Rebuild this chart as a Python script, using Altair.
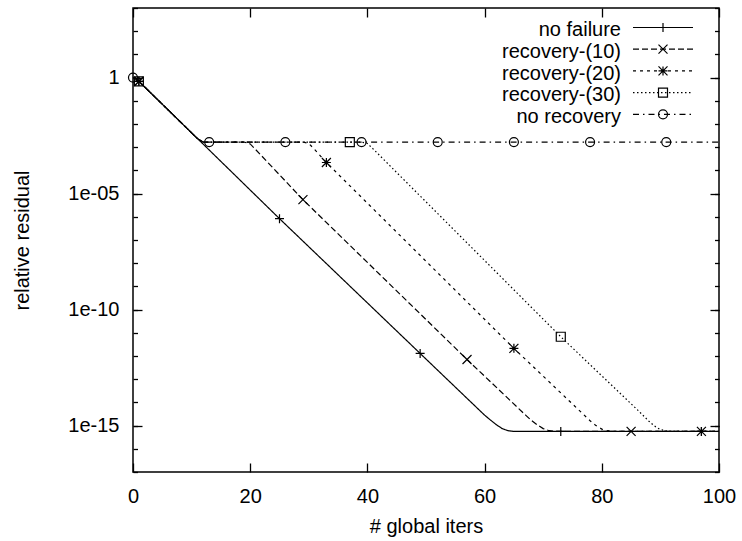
import altair as alt
import pandas as pd

FONT = "Liberation Sans"

series_names = ["no failure", "recovery-(10)", "recovery-(20)", "recovery-(30)", "no recovery"]

# curve vertices: global iteration and log10(relative residual)
nf_iter = [1, 25, 49, 60, 61, 62, 63, 64, 65, 100]
nf_exp = [-0.16, -6.08, -11.89, -14.55, -14.76, -14.96, -15.13, -15.22, -15.25, -15.25]
r10_iter = [1, 11, 12, 19, 20, 21, 29, 57, 67, 68, 69, 70, 71, 72, 100]
r10_exp = [-0.16, -2.63, -2.78, -2.78, -2.86, -3.12, -5.26, -12.15, -14.55, -14.78, -14.97, -15.13, -15.22, -15.25, -15.25]
r20_iter = [1, 11, 12, 29, 30, 31, 33, 65, 77, 78, 79, 80, 81, 82, 100]
r20_exp = [-0.16, -2.63, -2.78, -2.78, -2.84, -3.10, -3.66, -11.67, -14.55, -14.79, -15.00, -15.15, -15.22, -15.25, -15.25]
r30_iter = [1, 11, 12, 39, 40, 41, 73, 86, 87, 88, 89, 90, 91, 92, 100]
r30_exp = [-0.16, -2.63, -2.78, -2.78, -2.84, -3.08, -11.17, -14.30, -14.55, -14.80, -15.02, -15.17, -15.23, -15.25, -15.25]
nr_iter = [0, 1, 11, 12, 100]
nr_exp = [0.0, -0.16, -2.63, -2.78, -2.78]

# marker positions
nf_mk_iter = [1, 25, 49, 73, 97]
nf_mk_exp = [-0.16, -6.08, -11.89, -15.25, -15.25]
r10_mk_iter = [1, 29, 57, 85]
r10_mk_exp = [-0.16, -5.26, -12.15, -15.25]
r20_mk_iter = [1, 33, 65, 97]
r20_mk_exp = [-0.16, -3.66, -11.67, -15.25]
r30_mk_iter = [1, 37, 73]
r30_mk_exp = [-0.16, -2.78, -11.17]
nr_mk_iter = [0, 13, 26, 39, 52, 65, 78, 91]
nr_mk_exp = [0.0, -2.78, -2.78, -2.78, -2.78, -2.78, -2.78, -2.78]

x_tick_values = [0, 20, 40, 60, 80, 100]
y_tick_values = [1, 1e-5, 1e-10, 1e-15]
y_tick_labels = ["1", "1e-05", "1e-10", "1e-15"]
y_minor_values = [10.0 ** k for k in range(3, -18, -1)]

line_iters = [nf_iter, r10_iter, r20_iter, r30_iter, nr_iter]
line_exps = [nf_exp, r10_exp, r20_exp, r30_exp, nr_exp]
mk_iters = [nf_mk_iter, r10_mk_iter, r20_mk_iter, r30_mk_iter, nr_mk_iter]
mk_exps = [nf_mk_exp, r10_mk_exp, r20_mk_exp, r30_mk_exp, nr_mk_exp]

rows = []
for name, its, exps in zip(series_names, line_iters, line_exps):
    for i, e in zip(its, exps):
        rows.append({"series": name, "iter": i, "resid": 10.0 ** e})
lines_df = pd.DataFrame(rows)

rows = []
for name, its, exps in zip(series_names, mk_iters, mk_exps):
    for i, e in zip(its, exps):
        rows.append({"series": name, "iter": i, "resid": 10.0 ** e})
marks_df = pd.DataFrame(rows)

legend_df = pd.DataFrame({"series": series_names})

W, H = 586, 464

xs = alt.Scale(domain=[0, 100], nice=False, zero=False)
ys = alt.Scale(type="log", domain=[1e-17, 1e3], nice=False)

dash_scale = alt.Scale(domain=series_names,
                       range=[[1, 0], [6, 3], [3, 4], [1.5, 2.5], [6, 4, 1.5, 4]])
shape_scale = alt.Scale(domain=series_names, range=[
    "M-1,0H1M0,-1V1",
    "M-1,-1L1,1M-1,1L1,-1",
    "M-1,0H1M0,-1V1M-1,-1L1,1M-1,1L1,-1",
    "square",
    "circle",
])

parts = [f"datum.value > {v / 2!r} ? '{lab}'" for v, lab in zip(y_tick_values[:-1], y_tick_labels[:-1])]
label_expr = " : ".join(parts) + f" : '{y_tick_labels[-1]}'"

ax_bottom = alt.Axis(orient="bottom", values=x_tick_values, ticks=False, domain=False, grid=False,
                     labelPadding=14, labelFlush=False, labelFont=FONT, labelFontSize=20,
                     labelColor="black", title="# global iters", titleFont=FONT, titleFontSize=20,
                     titleFontWeight="normal", titleColor="black", titleX=W / 2, titleY=60.7,
                     titleBaseline="alphabetic", titleAlign="center")
ax_left = alt.Axis(orient="left", values=y_tick_values, labelExpr=label_expr, ticks=False,
                   domain=False, grid=False, labelPadding=14, labelFont=FONT, labelFontSize=20,
                   labelColor="black", title="relative residual", titleFont=FONT, titleFontSize=20,
                   titleFontWeight="normal", titleColor="black", titleAngle=270, titleX=-105,
                   titleY=H / 2, titleBaseline="alphabetic", titleAlign="center")


def tick_axis(orient, offset, values, size):
    return alt.Axis(orient=orient, offset=offset, values=values, tickSize=size, tickWidth=1.3,
                    tickColor="black", labels=False, domain=False, grid=False, title="")


lines = alt.Chart(lines_df).mark_line(color="black", strokeWidth=1.2).encode(
    x=alt.X("iter:Q", scale=xs, axis=ax_bottom),
    y=alt.Y("resid:Q", scale=ys, axis=ax_left),
    strokeDash=alt.StrokeDash("series:N", scale=dash_scale, legend=None),
    detail="series:N",
)

points = alt.Chart(marks_df).mark_point(filled=False, color="black", size=81, strokeWidth=1.2,
                                        opacity=1).encode(
    x=alt.X("iter:Q", scale=xs, axis=None),
    y=alt.Y("resid:Q", scale=ys, axis=None),
    shape=alt.Shape("series:N", scale=shape_scale, legend=None),
)


def axis_layer(xaxis=None, yaxis=None):
    return alt.Chart(lines_df).mark_line(opacity=0).encode(
        x=alt.X("iter:Q", scale=xs, axis=xaxis),
        y=alt.Y("resid:Q", scale=ys, axis=yaxis),
    )


tick_layers = [
    axis_layer(xaxis=tick_axis("top", -H, x_tick_values, 9)),
    axis_layer(xaxis=tick_axis("bottom", -H, x_tick_values, 9)),
    axis_layer(yaxis=tick_axis("right", -W, y_tick_values, 9)),
    axis_layer(yaxis=tick_axis("right", -W, y_minor_values, 4.5)),
    axis_layer(yaxis=tick_axis("left", -W, y_tick_values, 9)),
    axis_layer(yaxis=tick_axis("left", -W, y_minor_values, 4.5)),
]

leg_y = alt.Y("series:N", scale=alt.Scale(type="point", domain=series_names, range=[19.5, 106.3],
                                          padding=0), axis=None)

leg_text = alt.Chart(legend_df).mark_text(align="right", baseline="alphabetic", dy=8.7, fontSize=20,
                                          font=FONT, color="black").encode(
    x=alt.value(488), y=leg_y, text="series:N")
leg_rule = alt.Chart(legend_df).mark_rule(color="black", strokeWidth=1.2).encode(
    x=alt.value(500), x2=alt.value(560), y=leg_y,
    strokeDash=alt.StrokeDash("series:N", scale=dash_scale, legend=None))
leg_pts = alt.Chart(legend_df).mark_point(filled=False, color="black", size=81, strokeWidth=1.2,
                                          opacity=1).encode(
    x=alt.value(530), y=leg_y,
    shape=alt.Shape("series:N", scale=shape_scale, legend=None))

chart = alt.layer(lines, points, *tick_layers, leg_rule, leg_pts, leg_text).resolve_scale(
    y="independent"
).resolve_axis(
    x="independent", y="independent"
).properties(
    width=W, height=H,
    autosize=alt.AutoSizeParams(type="none"),
    padding={"left": 133, "top": 8, "right": 23, "bottom": 69},
    background="white",
).configure_view(stroke="black", strokeWidth=1.5)

chart.save("out.html", embed_options={"renderer": "svg", "actions": False})
